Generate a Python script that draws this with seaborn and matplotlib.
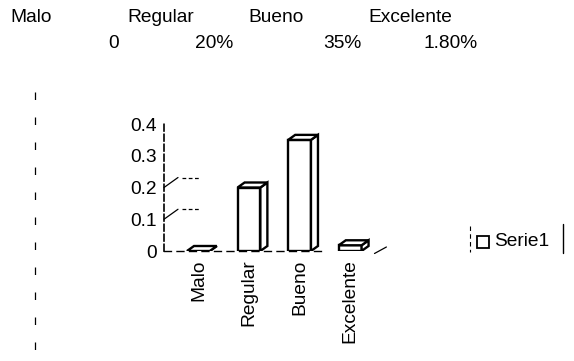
import matplotlib
matplotlib.use("Agg")
import matplotlib.pyplot as plt
from matplotlib.patches import Polygon, Rectangle
from matplotlib.lines import Line2D
import seaborn as sns
import pandas as pd

# Ratings and their shares
categories = ["Malo", "Regular", "Bueno", "Excelente"]
values = [0.0, 0.20, 0.35, 0.018]
value_labels = ["0", "20%", "35%", "1.80%"]
y_ticks = [0, 0.1, 0.2, 0.3, 0.4]
y_tick_labels = ["0", "0.1", "0.2", "0.3", "0.4"]
series_name = "Serie1"

sns.set_theme(style="white")
plt.rcParams["font.family"] = ["Liberation Sans", "DejaVu Sans"]
FS = 13.8

W, H = 574, 361
fig = plt.figure(figsize=(W / 100, H / 100), dpi=100)

# axes box in pixels: left 164, right 378, y=0 at 251, y=0.4 at 124
left_px, right_px, bot_px, top_px = 164, 378, 251, 124
ax = fig.add_axes([left_px / W, 1 - bot_px / H,
                   (right_px - left_px) / W, (bot_px - top_px) / H])

df = pd.DataFrame({"cat": categories, "val": values})
sns.barplot(data=df, x="cat", y="val", color="white", edgecolor="black",
            linewidth=1.7, width=0.45, ax=ax, saturation=1)

ax.set_xlim(-0.68, 3.55)
ax.set_ylim(0, 0.4)
ax.set_yticks(y_ticks)
ax.set_yticklabels(y_tick_labels, fontsize=FS)
ax.set_xticks(range(len(categories)))
ax.set_xticklabels(categories, rotation=90, fontsize=FS, va="top")
ax.set_xlabel("")
ax.set_ylabel("")
ax.tick_params(axis="y", length=3, width=1, direction="out", pad=2, colors="black")
ax.tick_params(axis="x", length=0, pad=6, colors="black")
for lab in ax.get_xticklabels() + ax.get_yticklabels():
    lab.set_color("black")

for s in ["top", "right"]:
    ax.spines[s].set_visible(False)
ax.spines["left"].set_linestyle((0, (4, 2)))
ax.spines["left"].set_linewidth(1.2)
ax.spines["left"].set_color("black")
ax.spines["bottom"].set_linestyle((0, (5, 4)))
ax.spines["bottom"].set_linewidth(1.0)
ax.spines["bottom"].set_color("black")
ax.spines["bottom"].set_bounds(-0.68, 2.5)

# depth of the 3D blocks, in pixels converted to data units
x0, x1 = ax.get_xlim()
y0, y1 = ax.get_ylim()
dx = 7 * (x1 - x0) / (right_px - left_px)
dy = 5 * (y1 - y0) / (bot_px - top_px)

for p in list(ax.patches):
    bx, by = p.get_x(), p.get_y()
    bw, bh = p.get_width(), p.get_height()
    top = by + bh
    side = Polygon([(bx + bw, by), (bx + bw + dx, by + dy),
                    (bx + bw + dx, top + dy), (bx + bw, top)],
                   closed=True, facecolor="white", edgecolor="black",
                   linewidth=1.7, zorder=p.get_zorder())
    cap = Polygon([(bx, top), (bx + dx, top + dy),
                   (bx + bw + dx, top + dy), (bx + bw, top)],
                  closed=True, facecolor="white", edgecolor="black",
                  linewidth=1.7, zorder=p.get_zorder())
    ax.add_patch(side)
    ax.add_patch(cap)

# back wall gridline stubs at 0.1 and 0.2
for yv in (0.1, 0.2):
    ax.plot([x0, x0 + 2 * dx], [yv, yv + 2 * dy], color="black", lw=0.9,
            clip_on=False)
    ax.plot([x0 + 2.6 * dx, x0 + 5.2 * dx], [yv + 2 * dy, yv + 2 * dy],
            color="black", lw=0.9, ls=(0, (3, 2)), clip_on=False)

# floor edge at the right end
ax.plot([3.55 - 0.5 * dx, 3.55 + 1.2 * dx], [-0.5 * dy, 0.8 * dy],
        color="black", lw=0.9, clip_on=False)

# header table: categories and their values
hdr_x = [10, 127, 248, 368]
val_x = [108, 195, 323, 423]
for cx, name in zip(hdr_x, categories):
    fig.text(cx / W, 1 - 18 / H, name, fontsize=FS, ha="left", va="center",
             color="black")
for cx, lab in zip(val_x, value_labels):
    fig.text(cx / W, 1 - 44 / H, lab, fontsize=FS, ha="left", va="center",
             color="black")

# legend box
fig.patches.append(Rectangle((477 / W, 1 - 248 / H), 12 / W, 12 / H,
                             transform=fig.transFigure, facecolor="white",
                             edgecolor="black", linewidth=1.3))
fig.text(494 / W, 1 - 241 / H, series_name, fontsize=FS, ha="left",
         va="center", color="black")
fig.lines.append(Line2D([470 / W, 470 / W], [1 - 226 / H, 1 - 252 / H],
                        transform=fig.transFigure, color="black", lw=0.8,
                        ls=(0, (4, 3))))
fig.lines.append(Line2D([563 / W, 563 / W], [1 - 224 / H, 1 - 253 / H],
                        transform=fig.transFigure, color="black", lw=1.0))

# chart-area border on the left
fig.lines.append(Line2D([35 / W, 35 / W], [1 - 92 / H, 1 - 358 / H],
                        transform=fig.transFigure, color="black", lw=0.9,
                        ls=(0, (6, 14))))

fig.savefig("out.png", dpi=100, facecolor="white")
